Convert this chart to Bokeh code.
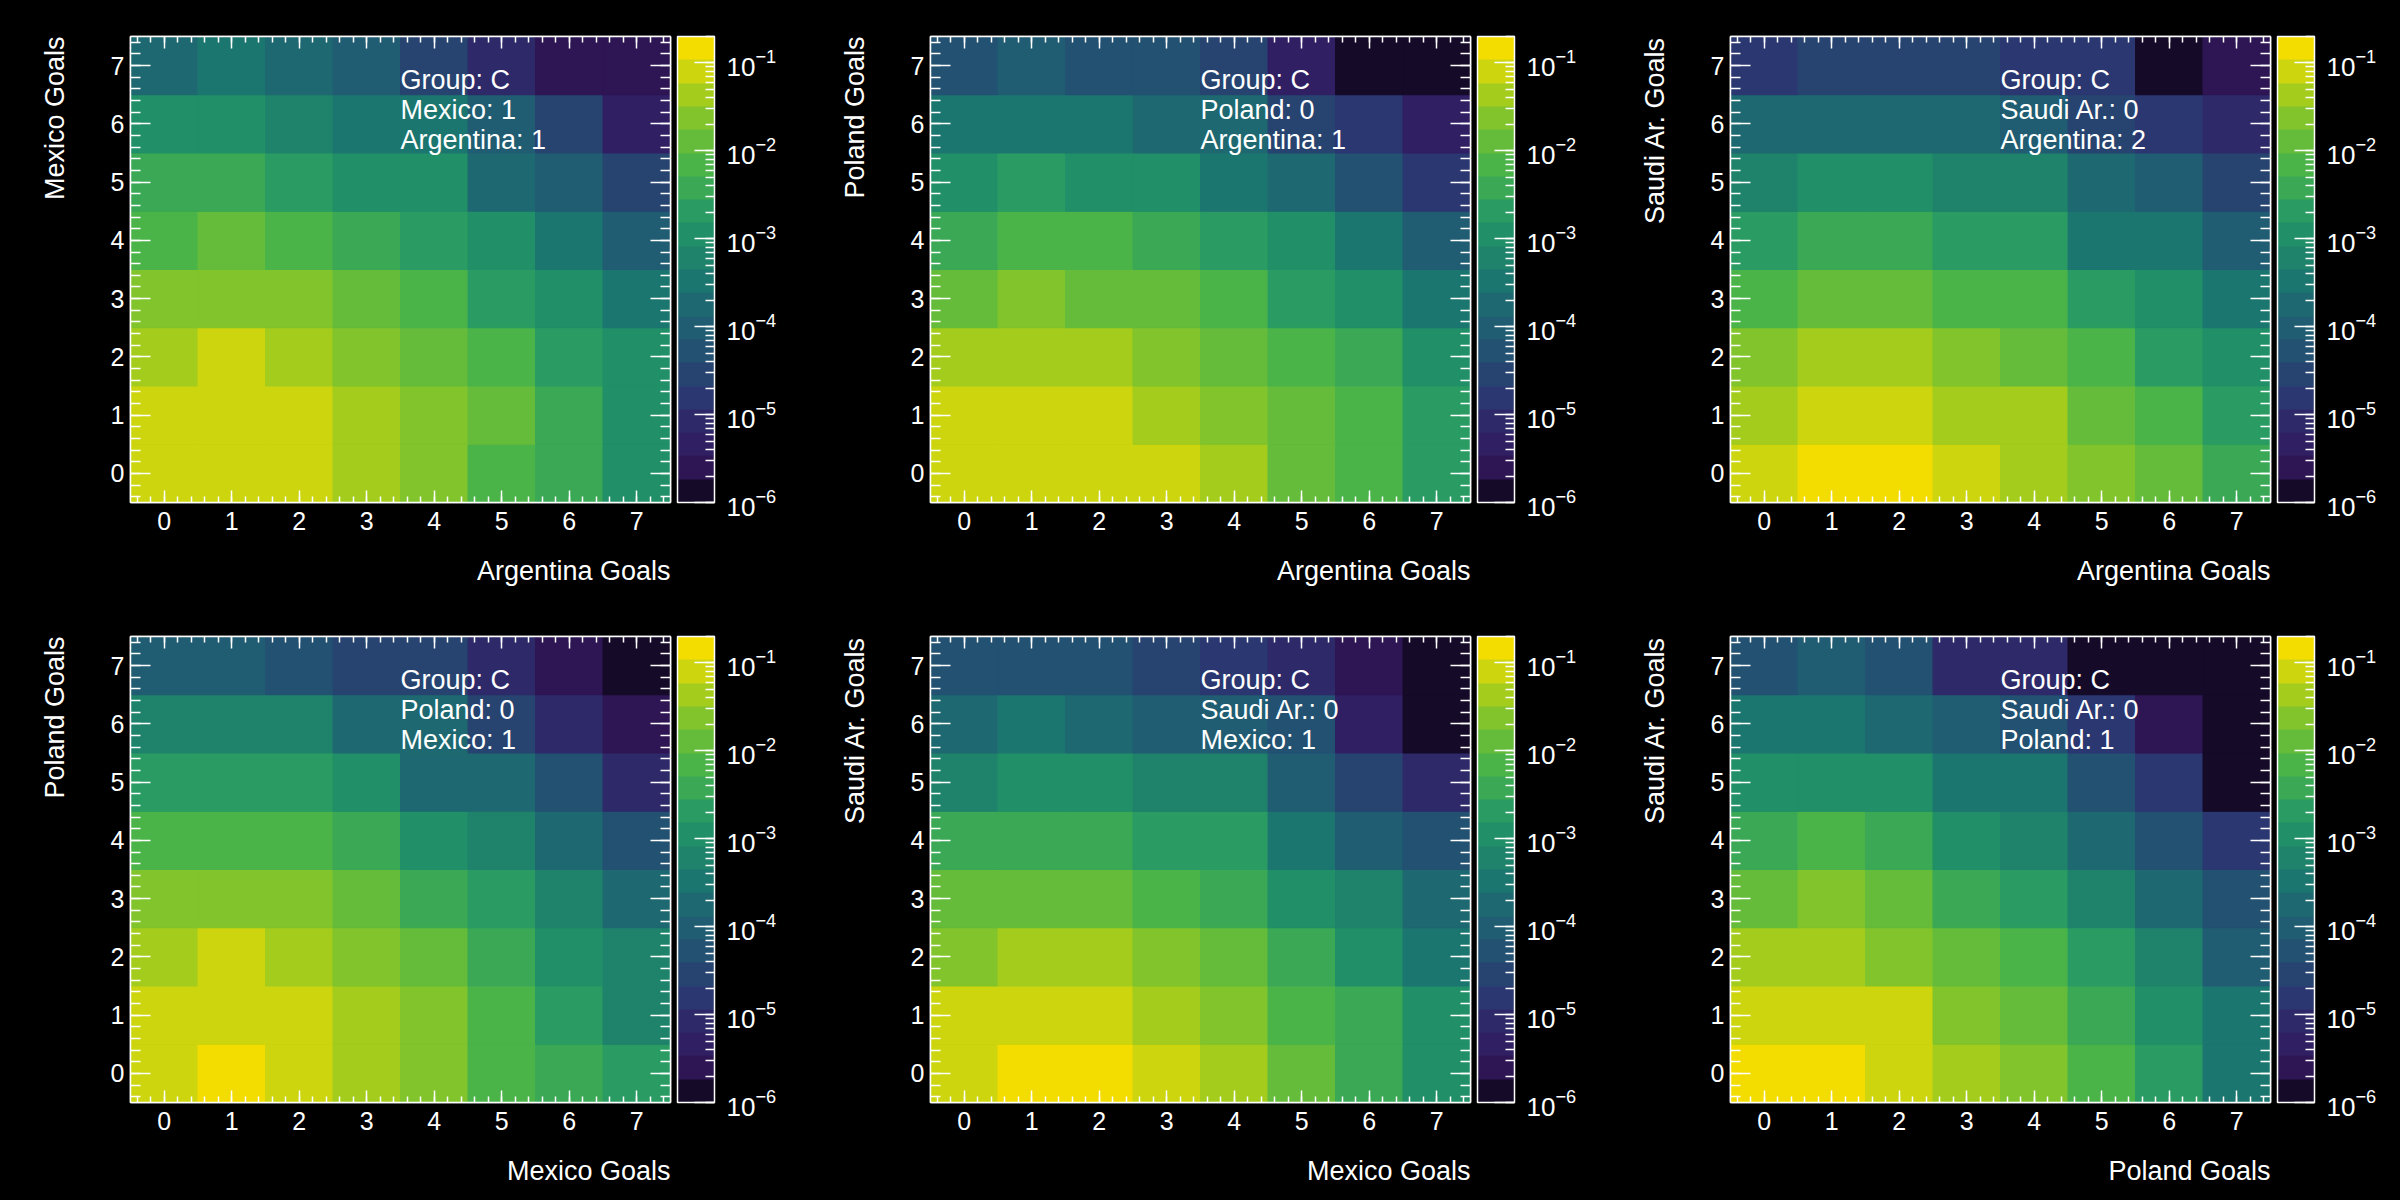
from bokeh.plotting import figure
from bokeh.models import (Range1d, SingleIntervalTicker, LinearAxis, LogColorMapper, ColorBar,
                          LogTicker, LogTickFormatter, Label, ColumnDataSource, Title,
                          GlobalInlineStyleSheet)
from bokeh.layouts import column, row
from bokeh.embed import file_html
from bokeh.resources import INLINE

FONT = "Liberation Sans"

goals = [0, 1, 2, 3, 4, 5, 6, 7]

# probabilities; row j = y-team goals j (0..7), column i = x-team goals i (0..7)
prob_arg_mex = [
    [0.075, 0.098, 0.085, 0.052, 0.024, 0.0088, 0.0035, 0.0011],
    [0.082, 0.105, 0.092, 0.056, 0.027, 0.011, 0.0040, 0.00125],
    [0.052, 0.064, 0.058, 0.030, 0.013, 0.0060, 0.0024, 0.00090],
    [0.022, 0.030, 0.026, 0.014, 0.0065, 0.0025, 0.0010, 0.00032],
    [0.0085, 0.011, 0.0092, 0.0045, 0.0022, 0.0009, 0.00035, 0.00011],
    [0.0034, 0.0045, 0.0026, 0.0013, 0.00095, 0.00020, 0.000095, 0.000028],
    [0.0012, 0.0014, 0.00075, 0.00042, 0.00028, 0.000085, 0.000032, 0.0000045],
    [0.00018, 0.00030, 0.00022, 0.00010, 0.000027, 0.0000085, 0.0000025, 0.0000022],
]
prob_arg_pol = [
    [0.085, 0.105, 0.095, 0.065, 0.042, 0.014, 0.0068, 0.0021],
    [0.078, 0.095, 0.088, 0.055, 0.026, 0.011, 0.0058, 0.0018],
    [0.040, 0.050, 0.045, 0.028, 0.013, 0.0065, 0.0030, 0.0011],
    [0.015, 0.019, 0.016, 0.011, 0.0060, 0.0020, 0.0010, 0.00030],
    [0.0045, 0.0062, 0.0055, 0.0036, 0.0017, 0.0009, 0.00031, 0.00010],
    [0.0012, 0.0016, 0.0014, 0.00095, 0.00035, 0.00016, 0.000055, 0.000014],
    [0.00030, 0.00038, 0.00034, 0.00022, 0.00014, 0.000030, 0.000016, 0.0000045],
    [0.000060, 0.000078, 0.000068, 0.000045, 0.000025, 0.0000040, 0.0000012, 0.0000012],
]
prob_arg_ksa = [
    [0.105, 0.125, 0.115, 0.075, 0.038, 0.019, 0.011, 0.0031],
    [0.058, 0.085, 0.075, 0.050, 0.034, 0.013, 0.0062, 0.0017],
    [0.026, 0.040, 0.036, 0.022, 0.011, 0.0055, 0.0018, 0.00090],
    [0.0085, 0.013, 0.012, 0.0075, 0.0055, 0.0020, 0.00095, 0.00030],
    [0.0026, 0.0036, 0.0033, 0.0022, 0.0016, 0.00040, 0.00027, 0.000090],
    [0.00070, 0.0011, 0.00098, 0.00060, 0.00048, 0.00015, 0.000080, 0.000025],
    [0.00016, 0.00022, 0.00020, 0.00014, 0.000090, 0.000030, 0.000014, 0.0000070],
    [0.000018, 0.000030, 0.000026, 0.000023, 0.000017, 0.000013, 0.0000012, 0.0000022],
]
prob_mex_pol = [
    [0.095, 0.115, 0.090, 0.050, 0.022, 0.0085, 0.0030, 0.0017],
    [0.098, 0.105, 0.088, 0.052, 0.025, 0.0090, 0.0026, 0.00075],
    [0.055, 0.062, 0.050, 0.030, 0.012, 0.0045, 0.0013, 0.00055],
    [0.022, 0.026, 0.024, 0.013, 0.0048, 0.0020, 0.00065, 0.00020],
    [0.0070, 0.0085, 0.0078, 0.0042, 0.0013, 0.00060, 0.00019, 0.000055],
    [0.0022, 0.0026, 0.0024, 0.0012, 0.00020, 0.00018, 0.000050, 0.0000090],
    [0.00062, 0.00072, 0.00065, 0.00022, 0.00017, 0.000030, 0.0000085, 0.0000025],
    [0.00011, 0.00012, 0.000060, 0.000034, 0.000028, 0.0000080, 0.0000025, 0.0000014],
]
prob_mex_ksa = [
    [0.100, 0.135, 0.120, 0.078, 0.042, 0.012, 0.0042, 0.0012],
    [0.075, 0.095, 0.088, 0.052, 0.025, 0.0078, 0.0035, 0.0010],
    [0.030, 0.044, 0.040, 0.025, 0.012, 0.0042, 0.0012, 0.00035],
    [0.012, 0.016, 0.014, 0.0080, 0.0040, 0.0012, 0.00062, 0.00018],
    [0.0035, 0.0045, 0.0040, 0.0024, 0.0016, 0.00035, 0.00010, 0.000055],
    [0.00075, 0.0011, 0.0010, 0.00065, 0.00050, 0.000095, 0.000030, 0.0000085],
    [0.00018, 0.00028, 0.00020, 0.00011, 0.000085, 0.000050, 0.0000048, 0.0000013],
    [0.000045, 0.000060, 0.000052, 0.000030, 0.000016, 0.0000080, 0.0000025, 0.0000013],
]
prob_pol_ksa = [
    [0.125, 0.130, 0.095, 0.048, 0.022, 0.0068, 0.0022, 0.00040],
    [0.090, 0.105, 0.075, 0.030, 0.012, 0.0040, 0.0012, 0.00035],
    [0.045, 0.050, 0.030, 0.014, 0.0065, 0.0020, 0.00058, 0.00012],
    [0.016, 0.019, 0.014, 0.0048, 0.0023, 0.00070, 0.00018, 0.000055],
    [0.0045, 0.0060, 0.0042, 0.0013, 0.00065, 0.00020, 0.000052, 0.000016],
    [0.0012, 0.0014, 0.0011, 0.00035, 0.00028, 0.000055, 0.000014, 0.0000012],
    [0.00032, 0.00038, 0.00019, 0.00010, 0.000055, 0.000016, 0.0000025, 0.0000012],
    [0.000055, 0.000085, 0.000058, 0.0000090, 0.0000078, 0.0000013, 0.0000012, 0.0000011],
]

x_titles = ["Argentina Goals", "Argentina Goals", "Argentina Goals",
            "Mexico Goals", "Mexico Goals", "Poland Goals"]
y_titles = ["Mexico Goals", "Poland Goals", "Saudi Ar. Goals",
            "Poland Goals", "Saudi Ar. Goals", "Saudi Ar. Goals"]
notes = [
    ["Group: C", "Mexico: 1", "Argentina: 1"],
    ["Group: C", "Poland: 0", "Argentina: 1"],
    ["Group: C", "Saudi Ar.: 0", "Argentina: 2"],
    ["Group: C", "Poland: 0", "Mexico: 1"],
    ["Group: C", "Saudi Ar.: 0", "Mexico: 1"],
    ["Group: C", "Saudi Ar.: 0", "Poland: 1"],
]
tables = [prob_arg_mex, prob_arg_pol, prob_arg_ksa, prob_mex_pol, prob_mex_ksa, prob_pol_ksa]

Z_MIN, Z_MAX = 1e-6, 0.2
PALETTE = ["#150B29", "#2E1553", "#311F64", "#2E2A6A", "#2B3770", "#274471", "#235172",
           "#205D72", "#1E6971", "#1C7670", "#1F836B", "#218F67", "#2A9C63", "#3AA854",
           "#4AB448", "#64BC3A", "#81C42B", "#A3CC1C", "#CDD50E", "#F3DD01"]

NOTE_X = 3.5
NOTE_Y = [6.748, 6.233, 5.718]


def style_axis(ax, tick_in, minor_in, labels, standoff):
    ax.ticker = SingleIntervalTicker(interval=1, num_minor_ticks=5)
    ax.major_tick_in = tick_in
    ax.major_tick_out = 0
    ax.minor_tick_in = minor_in
    ax.minor_tick_out = 0
    ax.major_tick_line_color = "white"
    ax.minor_tick_line_color = "white"
    ax.major_tick_line_width = 1.5
    ax.minor_tick_line_width = 1.5
    ax.axis_line_color = "white"
    ax.axis_line_width = 1.5
    ax.major_label_text_font = FONT
    if labels:
        ax.major_label_text_color = "white"
        ax.major_label_text_font_size = "25px"
    else:
        ax.major_label_text_color = None
        ax.major_label_text_font_size = "1px"
    ax.major_label_standoff = standoff


def pad_axis(ax, size_px):
    # blank (black, space-only) axis label used purely as layout padding
    ax.axis_label = " "
    ax.axis_label_standoff = 0
    ax.axis_label_text_color = "black"
    ax.axis_label_text_font = FONT
    ax.axis_label_text_font_size = size_px


def axis_title(text, standoff):
    return Title(text=text, align="right", vertical_align="top", standoff=standoff,
                 text_color="white", text_font=FONT, text_font_size="27px",
                 text_font_style="normal")


def make_panel(k):
    L, R, T, B = 130, 130, 36, 98
    p = figure(width=L + 540 + R, height=T + 466 + B,
               x_range=Range1d(-0.5, 7.5), y_range=Range1d(-0.5, 7.5),
               output_backend="svg", toolbar_location=None, tools="",
               min_border_left=L, min_border_right=R, min_border_top=T, min_border_bottom=B,
               background_fill_color="black", border_fill_color="black",
               outline_line_color="white", outline_line_width=1.5)
    p.grid.visible = False

    data = tables[k]
    xs, ys, vals = [], [], []
    for j, rowvals in enumerate(data):
        for i, v in enumerate(rowvals):
            xs.append(goals[i])
            ys.append(goals[j])
            vals.append(v)
    src = ColumnDataSource(dict(x=xs, y=ys, prob=vals))
    mapper = LogColorMapper(palette=PALETTE, low=Z_MIN, high=Z_MAX)
    p.rect(x="x", y="y", width=1, height=1, source=src,
           fill_color={"field": "prob", "transform": mapper},
           line_color={"field": "prob", "transform": mapper}, line_width=1)

    style_axis(p.xaxis[0], 12, 6, True, 9)
    pad_axis(p.xaxis[0], "6.5px")
    style_axis(p.yaxis[0], 20, 10, True, 6)

    top = LinearAxis()
    style_axis(top, 12, 6, False, 0)
    p.add_layout(top, "above")
    right = LinearAxis()
    style_axis(right, 20, 10, False, 0)
    pad_axis(right, "3.5px")
    p.add_layout(right, "right")

    cb = ColorBar(color_mapper=mapper, ticker=LogTicker(num_minor_ticks=10),
                  formatter=LogTickFormatter(), width=37, height=466,
                  location="top_left", margin=0, padding=0, label_standoff=12,
                  major_tick_in=20, major_tick_out=0, minor_tick_in=9, minor_tick_out=0,
                  major_tick_line_color="white", minor_tick_line_color="white",
                  major_tick_line_width=1.5, minor_tick_line_width=1.5,
                  bar_line_color="white", bar_line_width=1.5,
                  major_label_text_color="white", major_label_text_font=FONT,
                  major_label_text_font_size="26px",
                  background_fill_color="black", border_line_color=None)
    p.add_layout(cb, "right")

    # axis titles, right-aligned at the end of each axis
    p.add_layout(axis_title(x_titles[k], 26), "below")
    p.add_layout(axis_title(y_titles[k], 72), "left")

    for txt, yy in zip(notes[k], NOTE_Y):
        p.add_layout(Label(x=NOTE_X, y=yy, text=txt, text_color="white", text_font=FONT,
                           text_font_size="27px", text_baseline="middle"))
    return p


panels = [make_panel(k) for k in range(6)]
layout = column(row(*panels[:3]), row(*panels[3:]))
layout.stylesheets = [GlobalInlineStyleSheet(css="html, body { background-color: #000000; }")]

open("out.html", "w").write(file_html(layout, INLINE, title="Group C score probabilities"))
